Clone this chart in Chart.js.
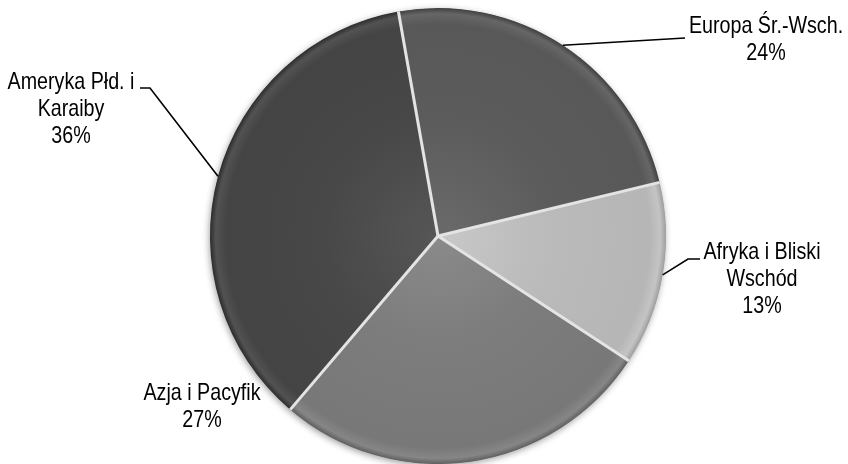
<!DOCTYPE html>
<html>
<head>
<meta charset="utf-8">
<script src="https://cdn.jsdelivr.net/npm/chart.js@4/dist/chart.umd.min.js"></script>
<style>
  html, body { margin: 0; padding: 0; background: #ffffff; }
  canvas { display: block; }
</style>
</head>
<body>
<canvas id="chart" width="848" height="464"></canvas>
<script>
// Regions and their share of the total (%)
const regions = ['Europa Śr.-Wsch.', 'Afryka i Bliski Wschód', 'Azja i Pacyfik', 'Ameryka Płd. i Karaiby'];
const shares = [24, 13, 27, 36];
// How each region name is broken across lines in its label
const labelLines = [
  ['Europa Śr.-Wsch.'],
  ['Afryka i Bliski', 'Wschód'],
  ['Azja i Pacyfik'],
  ['Ameryka Płd. i', 'Karaiby']
];
const sliceColors = ['#5c5c5c', '#bababa', '#7c7c7c', '#484848'];

// Label anchor (centre x, first baseline y) and the leader-line bend points
const labelLayout = [
  { x: 766, y: 33,  leader: [[685, 38]] },
  { x: 762, y: 259, leader: [[688, 259], [700, 259]] },
  { x: 202, y: 400, leader: null },
  { x: 71,  y: 89,  leader: [[150, 88], [140, 88]] }
];

function shade(hex, d) {
  const n = parseInt(hex.slice(1), 16);
  const f = v => Math.max(0, Math.min(255, v + d));
  const r = f((n >> 16) & 255), g = f((n >> 8) & 255), b = f(n & 255);
  return `rgb(${r},${g},${b})`;
}

// Use a condensed face if one is installed, otherwise squeeze the regular one
function pickFont(size) {
  const c = document.createElement('canvas').getContext('2d');
  const probe = 'Europa Wsch abc 123';
  c.font = `${size}px monospace`;
  const w0 = c.measureText(probe).width;
  c.font = `${size}px "Liberation Sans Narrow", monospace`;
  const w1 = c.measureText(probe).width;
  return w0 !== w1
    ? { family: '"Liberation Sans Narrow"', sx: 1 }
    : { family: '"Liberation Sans", Arial, sans-serif', sx: 0.82 };
}
const labelFont = pickFont(24);

const pieShadow = {
  id: 'pieShadow',
  beforeDatasetsDraw(chart) {
    const el = chart.getDatasetMeta(0).data[0];
    if (!el) return;
    const ctx = chart.ctx;
    ctx.save();
    ctx.shadowColor = 'rgba(0,0,0,0.4)';
    ctx.shadowBlur = 7;
    ctx.shadowOffsetX = -1;
    ctx.shadowOffsetY = 2;
    ctx.fillStyle = '#777777';
    ctx.beginPath();
    ctx.arc(el.x, el.y, el.outerRadius - 0.5, 0, Math.PI * 2);
    ctx.fill();
    ctx.restore();
  }
};

const separators = {
  id: 'separators',
  afterDatasetsDraw(chart) {
    const ctx = chart.ctx;
    const els = chart.getDatasetMeta(0).data;
    ctx.save();
    ctx.lineCap = 'butt';
    els.forEach(el => {
      const a = el.startAngle;
      ctx.strokeStyle = '#e4e4e4';
      ctx.lineWidth = 3;
      ctx.beginPath();
      ctx.moveTo(el.x, el.y);
      ctx.lineTo(el.x + el.outerRadius * Math.cos(a), el.y + el.outerRadius * Math.sin(a));
      ctx.stroke();
    });
    ctx.restore();
  }
};

const sliceLabels = {
  id: 'sliceLabels',
  afterDraw(chart) {
    const ctx = chart.ctx;
    const els = chart.getDatasetMeta(0).data;
    ctx.save();
    els.forEach((el, i) => {
      const lay = labelLayout[i];
      if (lay.leader) {
        const mid = (el.startAngle + el.endAngle) / 2;
        const sx = el.x + el.outerRadius * Math.cos(mid);
        const sy = el.y + el.outerRadius * Math.sin(mid);
        ctx.strokeStyle = '#000000';
        ctx.lineWidth = 1.6;
        ctx.beginPath();
        ctx.moveTo(sx, sy);
        lay.leader.forEach(p => ctx.lineTo(p[0], p[1]));
        ctx.stroke();
      }
      const lines = labelLines[i].concat([chart.data.datasets[0].data[i] + '%']);
      ctx.fillStyle = '#000000';
      ctx.textAlign = 'center';
      ctx.textBaseline = 'alphabetic';
      ctx.font = `24px ${labelFont.family}`;
      lines.forEach((t, k) => {
        ctx.save();
        ctx.translate(lay.x, lay.y + k * 26.8);
        ctx.scale(labelFont.sx, 1);
        ctx.fillText(t, 0, 0);
        ctx.restore();
      });
    });
    ctx.restore();
  }
};

new Chart(document.getElementById('chart'), {
  type: 'pie',
  data: {
    labels: regions,
    datasets: [{
      data: shares,
      borderWidth: 0,
      backgroundColor: ctx => {
        const chart = ctx.chart;
        const a = chart.chartArea;
        const base = sliceColors[ctx.dataIndex];
        if (!a) return base;
        const cx = (a.left + a.right) / 2, cy = (a.top + a.bottom) / 2;
        const r = Math.min(a.width, a.height) / 2;
        const g = chart.ctx.createRadialGradient(cx, cy, 0, cx, cy, r);
        g.addColorStop(0, shade(base, 14));
        g.addColorStop(0.5, base);
        g.addColorStop(0.93, shade(base, -4));
        g.addColorStop(0.975, shade(base, 10));
        g.addColorStop(1, shade(base, -28));
        return g;
      }
    }]
  },
  options: {
    responsive: false,
    animation: false,
    rotation: -10,
    layout: { padding: { left: 210, right: 182, top: 8, bottom: 0 } },
    plugins: {
      legend: { display: false },
      tooltip: { enabled: false }
    }
  },
  plugins: [pieShadow, separators, sliceLabels]
});
</script>
</body>
</html>
